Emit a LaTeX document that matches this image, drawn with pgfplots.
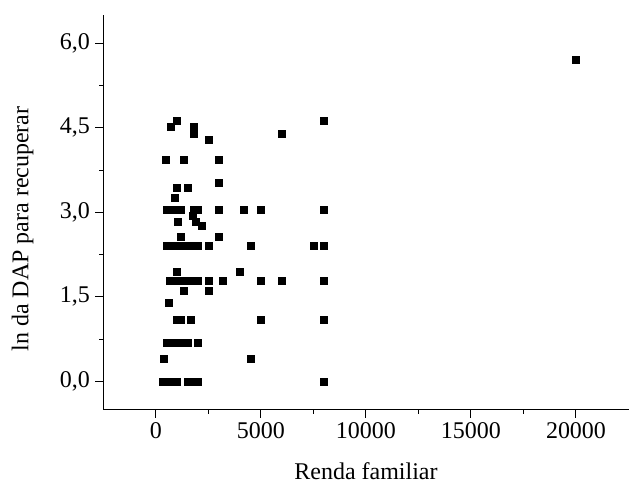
\documentclass[border=0pt]{standalone}
\usepackage{fontspec}
\setmainfont{Liberation Serif}
\usepackage{pgfplots}
\pgfplotsset{compat=1.18}
\begin{document}
\begin{tikzpicture}
\begin{axis}[
  scale only axis,
  width=525.5pt, height=395pt,
  xmin=-2500, xmax=22500,
  ymin=-0.5, ymax=6.5,
  axis x line*=bottom, axis y line*=left,
  axis line style={line width=1pt, -},
  tick align=outside,
  major tick length=8pt, minor tick length=4pt,
  every tick/.style={black, line width=1pt},
  scaled x ticks=false, scaled y ticks=false,
  xtick={0,5000,10000,15000,20000},
  xticklabels={0,5000,10000,15000,20000},
  ytick={0,1.5,3,4.5,6},
  yticklabels={{0,0},{1,5},{3,0},{4,5},{6,0}},
  minor x tick num=1, minor y tick num=1,
  xticklabel style={yshift=-1pt},
  yticklabel style={xshift=-2pt},
  tick label style={font=\fontsize{24}{28}\selectfont},
  label style={font=\fontsize{24}{28}\selectfont},
  xlabel={Renda familiar},
  ylabel={ln da DAP para recuperar},
  xlabel style={at={(axis description cs:0.5,-0.1772)}, anchor=base, inner sep=0pt},
  ylabel style={at={(axis description cs:-0.1541,0.458)}, anchor=center, inner sep=0pt},
]
\addplot[only marks, mark=square*, mark size=3.5pt, black] coordinates {
(20000,5.70)
(8000,4.62) (8000,3.04) (8000,2.40) (8000,1.79) (8000,1.10) (8000,0)
(7500,2.40)
(6000,4.39) (6000,1.79)
(5000,3.04) (5000,1.79) (5000,1.10)
(4500,2.40) (4500,0.41)
(4200,3.04)
(4000,1.95)
(3200,1.79)
(3000,3.93) (3000,3.53) (3000,3.04) (3000,2.56)
(2500,4.28) (2500,2.40) (2500,1.79) (2500,1.61)
(2200,2.77)
(2000,3.04) (2000,2.40) (2000,1.79) (2000,0.69) (2000,0)
(1800,4.51) (1800,4.39) (1800,3.04)
(1750,2.94) (1900,2.83)
(1000,4.62) (700,4.51)
(450,3.93) (1300,3.93)
(1000,3.43) (1500,3.43)
(900,3.26)
(500,3.04) (900,3.04) (1200,3.04)
(1050,2.83)
(1200,2.56)
(500,2.40) (900,2.40) (1250,2.40) (1600,2.40)
(1000,1.95)
(650,1.79) (1000,1.79) (1300,1.79) (1650,1.79)
(1300,1.61)
(600,1.39)
(1000,1.10) (1200,1.10) (1650,1.10)
(500,0.69) (850,0.69) (1200,0.69) (1500,0.69)
(350,0.41)
(300,0) (650,0) (1000,0) (1500,0) (1800,0)
};
\end{axis}
\path (current axis.south west) ++(-103.5pt,-74pt) rectangle ++(629pt,484pt);
\end{tikzpicture}
\end{document}
